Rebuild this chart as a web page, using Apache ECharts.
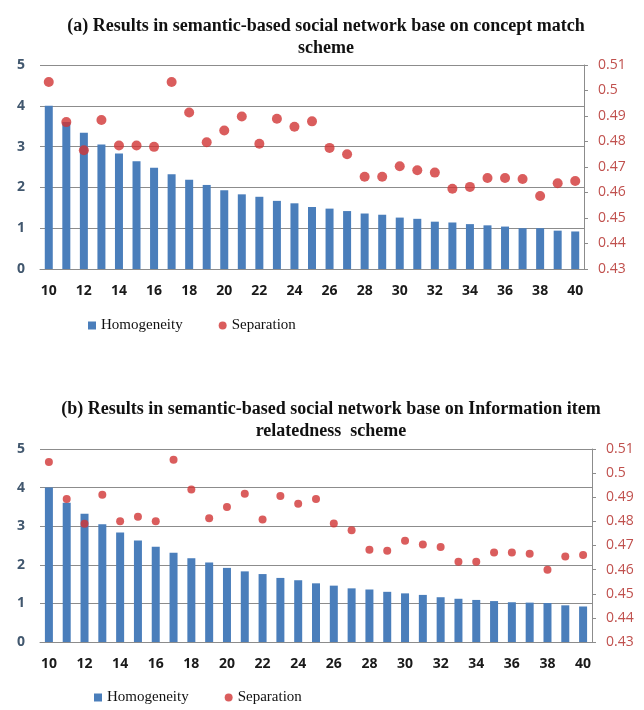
<!DOCTYPE html>
<html>
<head>
<meta charset="utf-8">
<script src="https://cdn.jsdelivr.net/npm/echarts@6/dist/echarts.min.js"></script>
<style>
html, body { margin: 0; padding: 0; background: #fff; }
#main { width: 644px; height: 710px; }
</style>
</head>
<body>
<div id="main"></div>
<script>
var categories = [];
for (var c = 10; c <= 40; c++) categories.push(String(c));

// (a) concept match scheme
var homogeneityA = [4.0, 3.6, 3.34, 3.05, 2.83, 2.64, 2.48, 2.32, 2.19, 2.06, 1.93, 1.83, 1.77, 1.67, 1.61, 1.52,
	1.48, 1.42, 1.36, 1.33, 1.26, 1.23, 1.16, 1.14, 1.10, 1.07, 1.04, 1.0, 1.0, 0.94, 0.92];
var separationA = [0.5033, 0.4876, 0.4766, 0.4884, 0.4784, 0.4784, 0.4779, 0.5033, 0.4914, 0.4797, 0.4843, 0.4898,
	0.4791, 0.4889, 0.4858, 0.4879, 0.4775, 0.4750, 0.4662, 0.4662, 0.4703, 0.4687, 0.4678, 0.4615, 0.4622,
	0.4657, 0.4657, 0.4653, 0.4586, 0.4636, 0.4645];

// (b) information item relatedness scheme
var homogeneityB = [4.0, 3.61, 3.32, 3.05, 2.84, 2.63, 2.47, 2.31, 2.17, 2.06, 1.92, 1.83, 1.76, 1.66, 1.60, 1.52,
	1.46, 1.39, 1.36, 1.30, 1.26, 1.22, 1.16, 1.12, 1.09, 1.06, 1.03, 1.02, 1.01, 0.95, 0.92];
var separationB = [0.5046, 0.4893, 0.4790, 0.4910, 0.4801, 0.4819, 0.4801, 0.5055, 0.4932, 0.4813, 0.4860, 0.4915,
	0.4808, 0.4905, 0.4873, 0.4893, 0.4791, 0.4763, 0.4682, 0.4678, 0.4720, 0.4704, 0.4694, 0.4633, 0.4633,
	0.4671, 0.4671, 0.4666, 0.4600, 0.4654, 0.4661];

var titleA = '(a) Results in semantic-based social network base on concept match\nscheme';
var titleB = '(b) Results in semantic-based social network base on Information item\nrelatedness  scheme';

var barColor = '#4a7ebb';
var dotColor = '#d13535';
var gridColor = '#8c8c8c';

function xAxisFor(idx) {
	return {
		type: 'category',
		gridIndex: idx,
		data: categories,
		axisLine: { show: true, lineStyle: { color: gridColor } },
		axisTick: { show: false },
		axisLabel: {
			interval: 1,
			margin: 15,
			color: '#1a1a1a',
			fontWeight: 'bold',
			fontSize: 14,
			fontFamily: 'Open Sans'
		}
	};
}

function leftAxisFor(idx) {
	return {
		type: 'value',
		gridIndex: idx,
		min: 0,
		max: 5,
		interval: 1,
		axisLine: { show: false },
		axisTick: { show: false },
		splitLine: { lineStyle: { color: gridColor } },
		axisLabel: {
			margin: 15,
			color: '#41576e',
			fontWeight: 'bold',
			fontSize: 14,
			fontFamily: 'Open Sans'
		}
	};
}

function rightAxisFor(idx) {
	return {
		type: 'value',
		gridIndex: idx,
		position: 'right',
		min: 0.43,
		max: 0.51,
		interval: 0.01,
		axisLine: { show: true, lineStyle: { color: gridColor } },
		axisTick: { show: true, length: 4, lineStyle: { color: gridColor } },
		splitLine: { show: false },
		axisLabel: {
			margin: 14,
			color: '#c0504d',
			fontSize: 14,
			fontFamily: 'Open Sans',
			formatter: function(v) { return String(parseFloat(v.toFixed(2))); }
		}
	};
}

function legendFor(left, top) {
	return {
		left: left,
		top: top,
		itemWidth: 8,
		itemHeight: 8,
		itemGap: 36,
		textStyle: { fontFamily: 'Liberation Serif', fontSize: 15, color: '#111' },
		data: [
			{ name: 'Homogeneity', icon: 'rect' },
			{ name: 'Separation', icon: 'circle' }
		]
	};
}

var chart = echarts.init(document.getElementById('main'));
var titleStyle = { fontFamily: 'Liberation Serif', fontWeight: 'bold', fontSize: 18, lineHeight: 22, color: '#111' };
var option = {
	backgroundColor: '#fff',
	animation: false,
	title: [{
		text: titleA,
		left: 321,
		top: 10,
		textAlign: 'center',
		textStyle: titleStyle
	}, {
		text: titleB,
		left: 326,
		top: 393,
		textAlign: 'center',
		textStyle: titleStyle
	}],
	legend: [legendFor(83, 313), legendFor(89, 685)],
	grid: [
		{ left: 40, right: 60, top: 65, height: 204 },
		{ left: 40, right: 52, top: 449, height: 193 }
	],
	xAxis: [xAxisFor(0), xAxisFor(1)],
	yAxis: [leftAxisFor(0), rightAxisFor(0), leftAxisFor(1), rightAxisFor(1)],
	series: [{
		name: 'Homogeneity',
		type: 'bar',
		xAxisIndex: 0,
		yAxisIndex: 0,
		data: homogeneityA,
		barWidth: 8,
		itemStyle: { color: barColor }
	}, {
		name: 'Separation',
		type: 'scatter',
		xAxisIndex: 0,
		yAxisIndex: 1,
		data: separationA,
		symbolSize: 10,
		itemStyle: { color: dotColor }
	}, {
		name: 'Homogeneity',
		type: 'bar',
		xAxisIndex: 1,
		yAxisIndex: 2,
		data: homogeneityB,
		barWidth: 8,
		itemStyle: { color: barColor }
	}, {
		name: 'Separation',
		type: 'scatter',
		xAxisIndex: 1,
		yAxisIndex: 3,
		data: separationB,
		symbolSize: 8,
		itemStyle: { color: dotColor }
	}]
};
chart.setOption(option);
</script>
</body>
</html>
